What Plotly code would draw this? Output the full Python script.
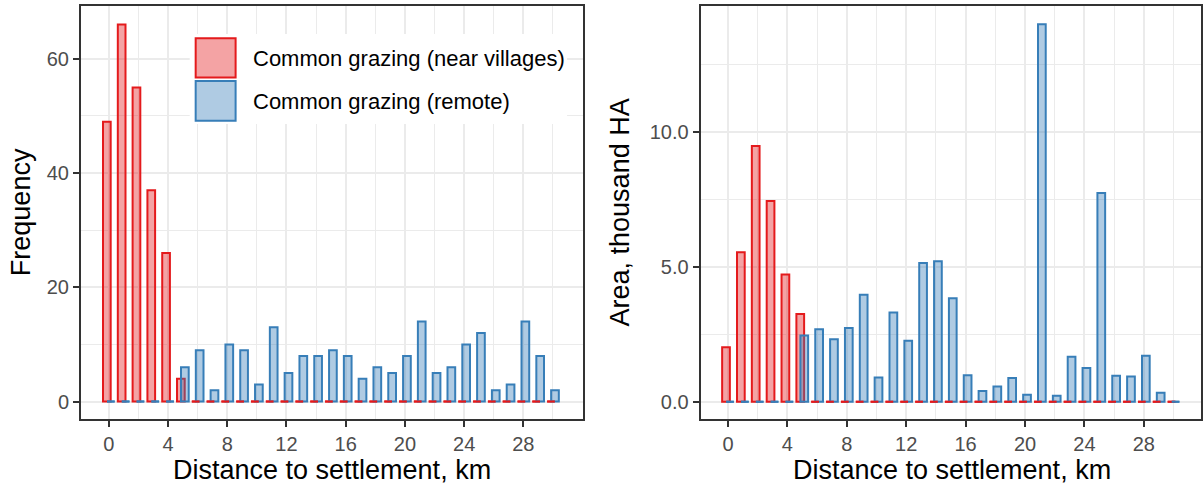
import plotly.graph_objects as go

# Distance bins (km) shared by both panels
distance = list(range(31))

# Number of common-grazing plots per distance bin
near_count = [49, 66, 55, 37, 26, 4, 0, 0, 0, 0, 0, 0, 0, 0, 0, 0,
              0, 0, 0, 0, 0, 0, 0, 0, 0, 0, 0, 0, 0, 0, 0]
remote_count = [0, 0, 0, 0, 0, 6, 9, 2, 10, 9, 3, 13, 5, 8, 8, 9,
                8, 4, 6, 5, 8, 14, 5, 6, 10, 12, 2, 3, 14, 8, 2]

# Grazing area per distance bin, thousand ha
near_area = [2.02, 5.53, 9.47, 7.43, 4.71, 3.25, 0, 0, 0, 0, 0, 0, 0, 0, 0, 0,
             0, 0, 0, 0, 0, 0, 0, 0, 0, 0, 0, 0, 0, 0, 0]
remote_area = [0, 0, 0, 0, 0, 2.45, 2.68, 2.31, 2.73, 3.96, 0.90, 3.30, 2.26, 5.14, 5.20, 3.83,
               0.98, 0.40, 0.56, 0.88, 0.26, 13.97, 0.22, 1.67, 1.25, 7.73, 0.96, 0.93, 1.70, 0.33, 0]

# Tick positions on the distance axis
distance_ticks = [0, 4, 8, 12, 16, 20, 24, 28]

near_name = "Common grazing (near villages)"
remote_name = "Common grazing (remote)"

W, H = 1203, 491
FONT = "Liberation Sans, Arial, sans-serif"

RED = "#E41A1C"
BLUE = "#377EB8"
RED_FILL = "rgba(228,26,28,0.4)"
BLUE_FILL = "rgba(55,126,184,0.4)"

BAR_W = 0.52
NEAR_OFF = -0.135 - BAR_W / 2
REMOTE_OFF = 0.135 - BAR_W / 2


def px_x(p):
    return p / W


def px_y(p):
    return 1 - p / H


def zero_segments(xs, vals, off):
    """Outline for zero-height bars: a flat stroke at y=0 across the bar slot."""
    sx, sy = [], []
    for x, v in zip(xs, vals):
        if v == 0:
            sx += [x + off, x + off + BAR_W, None]
            sy += [0, 0, None]
    return sx, sy


fig = go.Figure()

panels = [
    ("x", "y", near_count, remote_count),
    ("x2", "y2", near_area, remote_area),
]

for xa, ya, near_vals, remote_vals in panels:
    fig.add_trace(go.Bar(
        x=distance, y=near_vals, xaxis=xa, yaxis=ya, name=near_name,
        width=BAR_W, offset=NEAR_OFF,
        marker=dict(color=RED_FILL, line=dict(color=RED, width=2)),
        showlegend=False, hoverinfo="skip"))
    fig.add_trace(go.Bar(
        x=distance, y=remote_vals, xaxis=xa, yaxis=ya, name=remote_name,
        width=BAR_W, offset=REMOTE_OFF,
        marker=dict(color=BLUE_FILL, line=dict(color=BLUE, width=2)),
        showlegend=False, hoverinfo="skip"))
    for vals, off, col in ((near_vals, NEAR_OFF, RED), (remote_vals, REMOTE_OFF, BLUE)):
        sx, sy = zero_segments(distance, vals, off)
        fig.add_trace(go.Scatter(
            x=sx, y=sy, xaxis=xa, yaxis=ya, mode="lines",
            line=dict(color=col, width=2), showlegend=False, hoverinfo="skip"))

ydom = [px_y(419.3), px_y(5.7)]

common_x = dict(
    tickmode="array", tickvals=distance_ticks,
    minor=dict(tickmode="array", tickvals=[t + 2 for t in distance_ticks if t + 2 <= 30],
               showgrid=True, gridcolor="#EBEBEB", gridwidth=1, ticks=""),
    showgrid=True, gridcolor="#EBEBEB", gridwidth=2,
    zeroline=False, showline=True, mirror=True, linecolor="#333333", linewidth=1.7,
    ticks="outside", ticklen=6, tickwidth=2, tickcolor="#333333",
    tickfont=dict(family=FONT, size=20, color="#4D4D4D"),
)
common_y = dict(
    showgrid=True, gridcolor="#EBEBEB", gridwidth=2,
    zeroline=False, showline=True, mirror=True, linecolor="#333333", linewidth=1.7,
    ticks="outside", ticklen=6, tickwidth=2, tickcolor="#333333",
    tickfont=dict(family=FONT, size=20, color="#4D4D4D"),
)

fig.update_layout(
    width=W, height=H,
    margin=dict(l=0, r=0, t=0, b=0),
    paper_bgcolor="white", plot_bgcolor="white",
    barmode="overlay",
    showlegend=False,
    font=dict(family=FONT, color="black"),
    xaxis=dict(domain=[px_x(81), px_x(584.3)], range=[-1.89, 32.05], anchor="y", **common_x),
    yaxis=dict(domain=ydom, range=[-3.1, 69.3], anchor="x",
               tickmode="linear", tick0=0, dtick=20,
               minor=dict(dtick=10, tick0=0, showgrid=True, gridcolor="#EBEBEB", gridwidth=1, ticks=""),
               **common_y),
    xaxis2=dict(domain=[px_x(701.7), 1], range=[-1.85, 31.85], anchor="y2", **common_x),
    yaxis2=dict(domain=ydom, range=[-0.65, 14.66], anchor="x2",
                tickmode="linear", tick0=0, dtick=5, tickformat=".1f",
                minor=dict(dtick=2.5, tick0=0, showgrid=True, gridcolor="#EBEBEB", gridwidth=1, ticks=""),
                **common_y),
)

# Axis titles
title_font = dict(family=FONT, size=27, color="black")
annotations = [
    dict(text="Distance to settlement, km", x=px_x((81 + 584.3) / 2), y=px_y(470),
         xref="paper", yref="paper", xanchor="center", yanchor="middle",
         showarrow=False, font=title_font),
    dict(text="Distance to settlement, km", x=px_x((701.7 + 1205) / 2), y=px_y(470),
         xref="paper", yref="paper", xanchor="center", yanchor="middle",
         showarrow=False, font=title_font),
    dict(text="Frequency", x=px_x(21.7), y=px_y(212.5), textangle=-90,
         xref="paper", yref="paper", xanchor="center", yanchor="middle",
         showarrow=False, font=title_font),
    dict(text="Area, thousand HA", x=px_x(622), y=px_y(212.5), textangle=-90,
         xref="paper", yref="paper", xanchor="center", yanchor="middle",
         showarrow=False, font=title_font),
]

# Legend drawn inside the left panel: white box, large keys, labels
legend_font = dict(family=FONT, size=22, color="black")
shapes = [
    dict(type="rect", xref="paper", yref="paper", layer="above",
         x0=px_x(190), x1=px_x(568), y0=px_y(124), y1=px_y(34),
         fillcolor="white", line=dict(width=0)),
    dict(type="rect", xref="paper", yref="paper", layer="above",
         x0=px_x(196), x1=px_x(236), y0=px_y(77.5), y1=px_y(38.3),
         fillcolor=RED_FILL, line=dict(color=RED, width=2)),
    dict(type="rect", xref="paper", yref="paper", layer="above",
         x0=px_x(196), x1=px_x(236), y0=px_y(120.8), y1=px_y(81),
         fillcolor=BLUE_FILL, line=dict(color=BLUE, width=2)),
]
for label, yc in ((near_name, 58.3), (remote_name, 101.7)):
    annotations.append(dict(text=label, x=px_x(251), y=px_y(yc), xref="paper", yref="paper",
                            xanchor="left", yanchor="middle", showarrow=False, font=legend_font))

fig.update_layout(annotations=annotations, shapes=shapes)

fig.write_html("out.html")
